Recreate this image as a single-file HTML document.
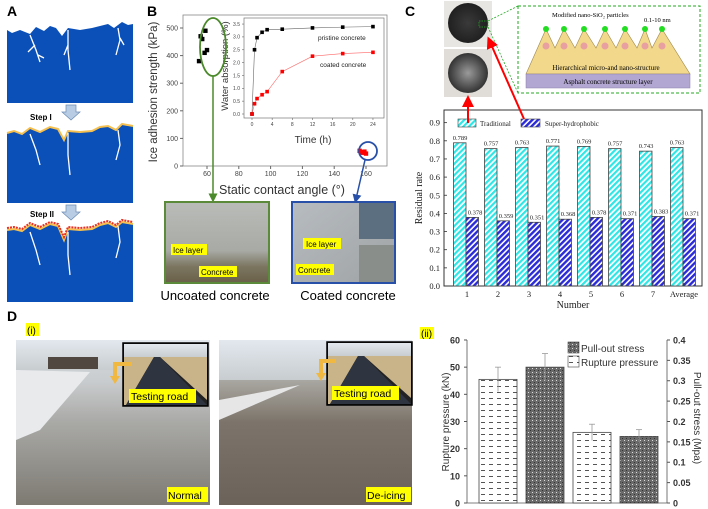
<!DOCTYPE html>
<html><head><meta charset="utf-8">
<style>
html,body{margin:0;padding:0;background:#fff;}
svg{display:block;font-family:"Liberation Sans",sans-serif;}
.serif{font-family:"Liberation Serif",serif;}
</style></head>
<body>
<svg id="fig" width="708" height="509" viewBox="0 0 708 509" xmlns="http://www.w3.org/2000/svg">
<defs>
<pattern id="pCyan" width="4" height="4" patternUnits="userSpaceOnUse" patternTransform="rotate(45)"><rect width="4" height="4" fill="#fff"/><rect width="2.2" height="4" fill="#2ee6e6"/></pattern>
<pattern id="pBlue" width="4" height="4" patternUnits="userSpaceOnUse" patternTransform="rotate(45)"><rect width="4" height="4" fill="#fff"/><rect width="2.4" height="4" fill="#2a2ad8"/></pattern>
<pattern id="pDash" width="8" height="6" patternUnits="userSpaceOnUse"><rect width="8" height="6" fill="#fff"/><rect x="1" y="2" width="4" height="1" fill="#555"/></pattern>
<pattern id="pDark" width="4" height="4" patternUnits="userSpaceOnUse"><rect width="4" height="4" fill="#6a6a6a"/><rect width="1" height="1" fill="#ddd"/><rect x="2" y="2" width="1" height="1" fill="#333"/></pattern>
<linearGradient id="gSnow" x1="0" y1="0" x2="0" y2="1"><stop offset="0" stop-color="#d8dde2"/><stop offset="0.25" stop-color="#c9ccce"/><stop offset="0.5" stop-color="#a9a9a6"/><stop offset="1" stop-color="#7d7a72"/></linearGradient>
<linearGradient id="gRoad" x1="0" y1="0" x2="0" y2="1"><stop offset="0" stop-color="#d9dee3"/><stop offset="0.25" stop-color="#a8a6a0"/><stop offset="0.5" stop-color="#7c746a"/><stop offset="1" stop-color="#6b6359"/></linearGradient>
<linearGradient id="gIce" x1="0" y1="0" x2="0" y2="1"><stop offset="0" stop-color="#b9bcb8"/><stop offset="0.6" stop-color="#a8aaa5"/><stop offset="0.8" stop-color="#7b7560"/><stop offset="1" stop-color="#6a6048"/></linearGradient>
<linearGradient id="gIce2" x1="0" y1="0" x2="1" y2="1"><stop offset="0" stop-color="#b7bcc0"/><stop offset="1" stop-color="#9fa3a5"/></linearGradient>
<linearGradient id="gSky" x1="0" y1="0" x2="0" y2="1"><stop offset="0" stop-color="#e2e8ee"/><stop offset="1" stop-color="#c8cdd0"/></linearGradient>
<radialGradient id="gDisk1"><stop offset="0" stop-color="#3a3a3a"/><stop offset="1" stop-color="#202020"/></radialGradient>
<radialGradient id="gDisk2"><stop offset="0" stop-color="#9a9a9a"/><stop offset="1" stop-color="#333"/></radialGradient>
<marker id="arR" markerWidth="6" markerHeight="6" refX="3" refY="3" orient="auto"><path d="M0,0 L6,3 L0,6 z" fill="#f00"/></marker>
<marker id="arG" markerWidth="6" markerHeight="6" refX="3" refY="3" orient="auto"><path d="M0,0 L6,3 L0,6 z" fill="#4a8a2a"/></marker>
<marker id="arB" markerWidth="6" markerHeight="6" refX="3" refY="3" orient="auto"><path d="M0,0 L6,3 L0,6 z" fill="#2850a8"/></marker>
</defs>

<!-- PANEL A -->
<g>
<text x="7" y="16" font-size="14" font-weight="bold">A</text>
<g>
<polygon points="7,30 12,33 20,30 30,34 36,27 44,31 50,26 56,28 62,36 68,28 80,30 92,28 100,26 108,24 114,28 122,22 128,25 133,24 133,103 7,103" fill="#0a50b8"/>
<path d="M30,35 L36,50 L40,62 M35,45 L28,52 M38,55 L44,58 M68,30 L68,50 L70,70 M68,45 L64,55 M118,28 L120,40 L116,55 M120,38 L124,45" stroke="#fff" stroke-width="1.3" fill="none"/>
</g>
<text x="30" y="120" font-size="8" font-weight="bold">Step I</text>
<polygon points="66,105 76,105 76,112 80,112 71,120 62,112 66,112" fill="#b8cce4" stroke="#6c8cb4" stroke-width="0.7"/>
<g>
<polygon points="7,133 14,131 22,134 30,128 40,132 50,127 58,129 64,140 68,131 80,132 92,131 100,127 108,126 116,130 122,124 133,126 133,203 7,203" fill="#0a50b8"/>
<polyline points="7,133 14,131 22,134 30,128 40,132 50,127 58,129 64,140 68,131 80,132 92,131 100,127 108,126 116,130 122,124 133,126" fill="none" stroke="#f5c050" stroke-width="2"/>
<path d="M30,134 L36,150 L40,165 M68,133 L68,155 L70,175 M118,130 L120,145 L116,160" stroke="#fff" stroke-width="1.3" fill="none"/>
</g>
<text x="30" y="217" font-size="8" font-weight="bold">Step II</text>
<polygon points="66,205 76,205 76,212 80,212 71,220 62,212 66,212" fill="#b8cce4" stroke="#6c8cb4" stroke-width="0.7"/>
<g>
<polygon points="7,230 14,229 22,231 30,225 40,229 50,224 58,226 64,240 68,229 80,230 92,229 100,225 108,223 116,227 122,222 133,224 133,302 7,302" fill="#0a50b8"/>
<polyline points="7,230 14,229 22,231 30,225 40,229 50,224 58,226 64,240 68,229 80,230 92,229 100,225 108,223 116,227 122,222 133,224" fill="none" stroke="#f5c050" stroke-width="2"/>
<polyline points="7,228 14,227 22,229 30,223 40,227 50,222 58,224 64,237 68,227 80,228 92,227 100,223 108,221 116,225 122,220 133,222" fill="none" stroke="#e83020" stroke-width="2" stroke-dasharray="2,1"/>
<path d="M30,232 L36,250 L40,265 M68,232 L68,255 L70,275 M118,226 L120,242 L116,258" stroke="#fff" stroke-width="1.3" fill="none"/>
</g>
</g>

<!-- PANEL B -->
<g>
<text x="147" y="16" font-size="14" font-weight="bold">B</text>
<g id="bMain"></g>
<g id="bInset"></g>
<ellipse cx="213" cy="47" rx="13" ry="29" fill="none" stroke="#4a8a2a" stroke-width="1.8"/>
<line x1="213" y1="76" x2="213" y2="198" stroke="#4a8a2a" stroke-width="1.5" marker-end="url(#arG)"/>
<circle cx="368" cy="151" r="9" fill="none" stroke="#2850a8" stroke-width="1.8"/>
<line x1="365" y1="160" x2="356" y2="199" stroke="#2850a8" stroke-width="1.5" marker-end="url(#arB)"/>
<g>
<rect x="165" y="202" width="104" height="81" fill="url(#gIce)" stroke="#5a8a3a" stroke-width="2"/>
<rect x="171" y="244" width="36" height="11" fill="#ffff00"/><text x="173" y="253" font-size="8">Ice layer</text>
<rect x="199" y="266" width="38" height="11" fill="#ffff00"/><text x="201" y="275" font-size="8">Concrete</text>
</g>
<g>
<rect x="292" y="202" width="103" height="81" fill="url(#gIce2)" stroke="#2850a8" stroke-width="2"/>
<rect x="359" y="203" width="35" height="36" fill="#5b6f80"/>
<rect x="359" y="245" width="35" height="37" fill="#8a8e8a"/>
<rect x="303" y="238" width="38" height="11" fill="#ffff00"/><text x="306" y="247" font-size="8">Ice layer</text>
<rect x="296" y="264" width="38" height="11" fill="#ffff00"/><text x="298" y="273" font-size="8">Concrete</text>
</g>
<text x="215" y="300" font-size="13" text-anchor="middle">Uncoated concrete</text>
<text x="348" y="300" font-size="13" text-anchor="middle">Coated concrete</text>
</g>

<!-- PANEL C -->
<g>
<text x="405" y="16" font-size="14" font-weight="bold">C</text>
<rect x="444" y="1" width="48" height="46" fill="#e8e6e2"/>
<circle cx="468" cy="23" r="20" fill="url(#gDisk1)"/>
<rect x="479" y="21" width="9" height="6" fill="none" stroke="#2a2" stroke-width="0.8" stroke-dasharray="1.5,1"/>
<rect x="444" y="49" width="48" height="48" fill="#e0ddd8"/>
<circle cx="468" cy="73" r="20" fill="url(#gDisk2)"/>
<line x1="488" y1="21" x2="518" y2="6" stroke="#2a2" stroke-width="0.8" stroke-dasharray="2,1.5"/>
<line x1="488" y1="27" x2="518" y2="93" stroke="#2a2" stroke-width="0.8" stroke-dasharray="2,1.5"/>
<g>
<rect x="518" y="6" width="182" height="87" fill="#fff" stroke="#2a2" stroke-width="1" stroke-dasharray="3,2"/>
<text x="552" y="17" font-size="6.5" class="serif">Modified nano-SiO₂ particles</text>
<text x="644" y="22" font-size="6.5" class="serif">0.1-10 nm</text>
<polygon points="526,74 546,29 555,48 564,29 575,48 584,29 596,48 605,29 616,48 625,29 637,48 645,29 652,48 662,29 690,74" fill="#f2d88a" stroke="#a08850" stroke-width="0.6"/>
<g fill="#22dd22"><circle cx="546" cy="29" r="3"/><circle cx="564" cy="29" r="3"/><circle cx="584" cy="29" r="3"/><circle cx="605" cy="29" r="3"/><circle cx="625" cy="29" r="3"/><circle cx="645" cy="29" r="3"/><circle cx="662" cy="29" r="3"/></g>
<g fill="#e8a0a0"><circle cx="546" cy="46" r="3.5"/><circle cx="564" cy="46" r="3.5"/><circle cx="584" cy="46" r="3.5"/><circle cx="605" cy="46" r="3.5"/><circle cx="625" cy="46" r="3.5"/><circle cx="645" cy="46" r="3.5"/><circle cx="662" cy="46" r="3.5"/></g>
<text x="606" y="70" font-size="7" class="serif" text-anchor="middle">Hierarchical micro-and nano-structure</text>
<rect x="526" y="74" width="164" height="14" fill="#b2a6d2" stroke="#8a80aa" stroke-width="0.5"/>
<text x="608" y="84" font-size="7" class="serif" text-anchor="middle">Asphalt concrete structure layer</text>
</g>
<g id="cChart" class="serif"></g>
<line x1="468" y1="123" x2="468" y2="101" stroke="#f00" stroke-width="2" marker-end="url(#arR)"/>
<line x1="524" y1="119" x2="490" y2="42" stroke="#f00" stroke-width="2" marker-end="url(#arR)"/>
</g>

<!-- PANEL D -->
<g>
<text x="7" y="321" font-size="14" font-weight="bold">D</text>
<rect x="26" y="323" width="13" height="13" fill="#ffff00"/><text x="27" y="334" font-size="10">(i)</text>
<g>
<rect x="16" y="340" width="194" height="165" fill="url(#gSnow)"/>
<rect x="16" y="340" width="194" height="30" fill="url(#gSky)"/>
<rect x="48" y="357" width="50" height="12" fill="#504840"/>
<polygon points="16,370 90,372 40,430 16,440" fill="#e8eaec"/>
<rect x="123" y="343" width="85" height="63" fill="#222" stroke="#000" stroke-width="1.5"/>
<rect x="124" y="344" width="83" height="13" fill="url(#gSky)"/>
<polygon points="124,357 154,357 126,405 124,405" fill="#c9b48a"/><polygon points="160,357 207,357 207,400" fill="#c9b48a"/>
<polygon points="154,357 160,357 207,405 126,405" fill="#2e3440"/>
<rect x="129" y="389" width="67" height="14" fill="#ffff00"/><text x="131" y="400" font-size="10.5">Testing road</text>
<path d="M132,364 L115,364 L115,376" fill="none" stroke="#f0b840" stroke-width="4"/><polygon points="110,376 120,376 115,384" fill="#f0b840"/>
<rect x="167" y="487" width="41" height="15" fill="#ffff00"/><text x="168" y="499" font-size="10.5">Normal</text>
</g>
<g>
<rect x="219" y="340" width="193" height="165" fill="url(#gRoad)"/>
<rect x="219" y="340" width="193" height="40" fill="url(#gSky)"/>
<polygon points="219,400 300,385 219,420" fill="#e6e6e6"/>
<rect x="327" y="342" width="85" height="63" fill="#222" stroke="#000" stroke-width="1.5"/>
<rect x="328" y="343" width="83" height="13" fill="url(#gSky)"/>
<polygon points="328,356 358,356 330,404 328,404" fill="#c9b48a"/><polygon points="364,356 411,356 411,398" fill="#c9b48a"/>
<polygon points="358,356 364,356 411,404 330,404" fill="#2e3440"/>
<rect x="332" y="386" width="67" height="14" fill="#ffff00"/><text x="334" y="397" font-size="10.5">Testing road</text>
<path d="M336,361 L321,361 L321,373" fill="none" stroke="#f0b840" stroke-width="4"/><polygon points="316,373 326,373 321,381" fill="#f0b840"/>
<rect x="366" y="487" width="45" height="15" fill="#ffff00"/><text x="367" y="499" font-size="10.5">De-icing</text>
</g>
<rect x="420" y="327" width="14" height="12" fill="#ffff00"/><text x="421" y="337" font-size="10">(ii)</text>
<g id="dChart"></g>
</g>

<script>
// ---------- Panel B data ----------
var bAngles = [55, 56, 57, 58.5, 59, 60];
var bAdhesion = [380, 470, 460, 410, 490, 420];
var bCoatedAngles = [156, 157, 158, 159, 160];
var bCoatedAdhesion = [55, 50, 48, 52, 45];
var bXTicks = [60, 80, 100, 120, 140, 160];
var bYTicks = [0, 100, 200, 300, 400, 500];
var insetTime = [0, 0.5, 1, 2, 3, 6, 12, 18, 24];
var insetPristine = [0, 2.5, 2.97, 3.18, 3.28, 3.3, 3.35, 3.38, 3.4];
var insetCoated = [0, 0.4, 0.6, 0.75, 0.87, 1.65, 2.25, 2.35, 2.4];
var insetXTicks = [0, 4, 8, 12, 16, 20, 24];
var insetYTicks = [0, 0.5, 1.0, 1.5, 2.0, 2.5, 3.0, 3.5];
// ---------- Panel C data ----------
var cCategories = ["1", "2", "3", "4", "5", "6", "7", "Average"];
var cTraditional = [0.789, 0.757, 0.763, 0.771, 0.769, 0.757, 0.743, 0.763];
var cSuper = [0.378, 0.359, 0.351, 0.368, 0.378, 0.371, 0.383, 0.371];
var cYTicks = [0, 0.1, 0.2, 0.3, 0.4, 0.5, 0.6, 0.7, 0.8, 0.9];
// ---------- Panel D(ii) data ----------
var dValues = [45.5, 50, 26, 24.5];
var dErrors = [4.5, 5, 3, 2.5];
var dSeries = ["rupture", "pullout", "rupture", "pullout"];
var dLeftTicks = [0, 10, 20, 30, 40, 50, 60];
var dRightTicks = [0, 0.05, 0.1, 0.15, 0.2, 0.25, 0.3, 0.35, 0.4];

var NS = "http://www.w3.org/2000/svg";
function mk(parent, tag, attrs, text) {
  var e = document.createElementNS(NS, tag);
  for (var k in attrs) e.setAttribute(k, attrs[k]);
  if (text !== undefined) e.textContent = text;
  parent.appendChild(e);
  return e;
}
function fmt(v, d) { return v.toFixed(d); }

// ---------- Panel B main ----------
(function () {
  var g = document.getElementById("bMain");
  var X0 = 183, X1 = 387, Y0 = 15, Y1 = 166;
  function bx(v) { return 207 + (v - 60) * 1.59; }
  function by(v) { return 166 - v * 0.276; }
  var frame = mk(g, "rect", {x: X0, y: Y0, width: X1 - X0, height: Y1 - Y0, fill: "#fff", stroke: "#888", "stroke-width": 0.8});
  
  
  bXTicks.forEach(function (t) {
    mk(g, "line", {x1: bx(t), y1: Y1, x2: bx(t), y2: Y1 + 3, stroke: "#666"});
    var l = mk(g, "text", {x: bx(t), y: Y1 + 10, "font-size": 7, "text-anchor": "middle", fill: "#444"}, String(t));
    
    
  });
  bYTicks.forEach(function (t) {
    mk(g, "line", {x1: X0 - 3, y1: by(t), x2: X0, y2: by(t), stroke: "#666"});
    var l = mk(g, "text", {x: X0 - 5, y: by(t) + 2.5, "font-size": 7, "text-anchor": "end", fill: "#444"}, String(t));
    
    
  });
  var yt = mk(g, "text", {x: 0, y: 0, "font-size": 11.5, "text-anchor": "middle", fill: "#333", transform: "translate(157,92) rotate(-90)"}, "Ice adhesion strength (kPa)");
  
  
  var xt = mk(g, "text", {x: 282, y: 194, "font-size": 12.5, "text-anchor": "middle", fill: "#333"}, "Static contact angle (°)");
  
  
  bAngles.forEach(function (a, i) {
    var p = mk(g, "rect", {x: bx(a) - 2.2, y: by(bAdhesion[i]) - 2.2, width: 4.4, height: 4.4, fill: "#000"});
    
    
  });
  bCoatedAngles.forEach(function (a, i) {
    var p = mk(g, "rect", {x: bx(a) - 2.2, y: by(bCoatedAdhesion[i]) - 2.2, width: 4.4, height: 4.4, fill: "#f00"});
    
    
  });
})();

// ---------- Panel B inset ----------
(function () {
  var g = document.getElementById("bInset");
  var X0 = 244, X1 = 384, Y0 = 18, Y1 = 118;
  function ix(t) { return 252 + t * 5.04; }
  function iy(w) { return 114 - w * 25.7; }
  mk(g, "rect", {x: X0, y: Y0, width: X1 - X0, height: Y1 - Y0, fill: "#fff", stroke: "#777", "stroke-width": 0.7});
  insetXTicks.forEach(function (t) {
    mk(g, "line", {x1: ix(t), y1: Y1, x2: ix(t), y2: Y1 + 2, stroke: "#666", "stroke-width": 0.6});
    var l = mk(g, "text", {x: ix(t), y: Y1 + 8, "font-size": 5, "text-anchor": "middle", fill: "#444"}, String(t));
    
    
  });
  insetYTicks.forEach(function (t) {
    mk(g, "line", {x1: X0 - 2, y1: iy(t), x2: X0, y2: iy(t), stroke: "#666", "stroke-width": 0.6});
    var l = mk(g, "text", {x: X0 - 4, y: iy(t) + 1.8, "font-size": 5, "text-anchor": "end", fill: "#444"}, fmt(t, 1));
    
    
  });
  var yt = mk(g, "text", {x: 0, y: 0, "font-size": 9.5, "text-anchor": "middle", fill: "#333", transform: "translate(228,66) rotate(-90)"}, "Water absorption (%)");
  
  
  var xt = mk(g, "text", {x: 313, y: 143, "font-size": 10, "text-anchor": "middle", fill: "#333"}, "Time (h)");
  
  
  function series(vals, col, name) {
    var pts = insetTime.map(function (t, i) { return ix(t) + "," + iy(vals[i]); }).join(" ");
    var line = mk(g, "polyline", {points: pts, fill: "none", stroke: col, "stroke-width": 0.6, opacity: 0.6});
    
    
    insetTime.forEach(function (t, i) {
      var p = mk(g, "rect", {x: ix(t) - 1.8, y: iy(vals[i]) - 1.8, width: 3.6, height: 3.6, fill: col});
      
      
    });
  }
  series(insetPristine, "#000", "pristine");
  series(insetCoated, "#f00", "coated");
  var l1 = mk(g, "text", {x: 318, y: 40, "font-size": 6.5, fill: "#222"}, "pristine concrete");
  
  
  var l2 = mk(g, "text", {x: 320, y: 67, "font-size": 6.5, fill: "#222"}, "coated concrete");
  
  
})();

// ---------- Panel C chart ----------
(function () {
  var g = document.getElementById("cChart");
  var X0 = 444, X1 = 702, Y0 = 110, Y1 = 286;
  function cy(v) { return 286 - v * 181.5; }
  function cx(i) { return 467 + i * 31; }
  mk(g, "rect", {x: X0, y: Y0, width: X1 - X0, height: Y1 - Y0, fill: "#fff", stroke: "#333", "stroke-width": 1});
  cYTicks.forEach(function (t) {
    mk(g, "line", {x1: X0, y1: cy(t), x2: X0 + 3, y2: cy(t), stroke: "#333", "stroke-width": 0.8});
    var l = mk(g, "text", {x: X0 - 4, y: cy(t) + 3, "font-size": 8.5, "text-anchor": "end", fill: "#222"}, fmt(t, 1));
    
    
  });
  cCategories.forEach(function (c, i) {
    var x = cx(i);
    var b1 = mk(g, "rect", {x: x - 13.5, y: cy(cTraditional[i]), width: 12.5, height: Y1 - cy(cTraditional[i]), fill: "url(#pCyan)", stroke: "#444", "stroke-width": 0.8});
    
    
    var b2 = mk(g, "rect", {x: x - 1, y: cy(cSuper[i]), width: 12.5, height: Y1 - cy(cSuper[i]), fill: "url(#pBlue)", stroke: "#444", "stroke-width": 0.8});
    
    
    var v1 = mk(g, "text", {x: x - 7, y: cy(cTraditional[i]) - 3, "font-size": 6.5, "text-anchor": "middle", fill: "#222"}, fmt(cTraditional[i], 3));
    
    
    var v2 = mk(g, "text", {x: x + 8, y: cy(cSuper[i]) - 3, "font-size": 6.5, "text-anchor": "middle", fill: "#222"}, fmt(cSuper[i], 3));
    
    
    mk(g, "line", {x1: x, y1: Y1, x2: x, y2: Y1 - 3, stroke: "#333", "stroke-width": 0.8});
    var l = mk(g, "text", {x: x, y: Y1 + 11, "font-size": 8.5, "text-anchor": "middle", fill: "#222"}, c);
    
    
  });
  var yt = mk(g, "text", {x: 0, y: 0, "font-size": 10, "text-anchor": "middle", fill: "#222", transform: "translate(422,198) rotate(-90)"}, "Residual rate");
  
  
  var xt = mk(g, "text", {x: 573, y: 308, "font-size": 10, "text-anchor": "middle", fill: "#222"}, "Number");
  
  
  var lg1 = mk(g, "rect", {x: 458, y: 119, width: 18, height: 8, fill: "url(#pCyan)", stroke: "#444", "stroke-width": 0.6});
  
  
  var lt1 = mk(g, "text", {x: 480, y: 126, "font-size": 7, fill: "#222"}, "Traditional");
  
  
  var lg2 = mk(g, "rect", {x: 521, y: 119, width: 19, height: 8, fill: "url(#pBlue)", stroke: "#444", "stroke-width": 0.6});
  
  
  var lt2 = mk(g, "text", {x: 545, y: 126, "font-size": 7, fill: "#222"}, "Super-hydrophobic");
  
  
})();

// ---------- Panel D(ii) chart ----------
(function () {
  var g = document.getElementById("dChart");
  var X0 = 467, X1 = 667, Y0 = 340, Y1 = 503;
  function dy(v) { return 503 - v * 2.717; }
  function dx(i) { return 498 + i * 47; }
  mk(g, "line", {x1: X0, y1: Y0, x2: X0, y2: Y1, stroke: "#555", "stroke-width": 0.8});
  mk(g, "line", {x1: X1, y1: Y0, x2: X1, y2: Y1, stroke: "#555", "stroke-width": 0.8});
  mk(g, "line", {x1: X0, y1: Y1, x2: X1, y2: Y1, stroke: "#555", "stroke-width": 0.8});
  dLeftTicks.forEach(function (t) {
    mk(g, "line", {x1: X0 - 3, y1: dy(t), x2: X0, y2: dy(t), stroke: "#555"});
    var l = mk(g, "text", {x: X0 - 7, y: dy(t) + 3.5, "font-size": 9, "font-weight": "bold", "text-anchor": "end", fill: "#333"}, String(t));
    
    
  });
  dRightTicks.forEach(function (t) {
    var yy = dy(t * 150);
    mk(g, "line", {x1: X1, y1: yy, x2: X1 + 3, y2: yy, stroke: "#555"});
    var l = mk(g, "text", {x: X1 + 6, y: yy + 3.5, "font-size": 9, "font-weight": "bold", fill: "#333"}, t === 0 ? "0" : String(t));
    
    
  });
  dValues.forEach(function (v, i) {
    var x = dx(i);
    var b = mk(g, "rect", {x: x - 19, y: dy(v), width: 38, height: Y1 - dy(v), fill: dSeries[i] === "pullout" ? "url(#pDark)" : "url(#pDash)", stroke: "#444", "stroke-width": 0.8});
    
    
    var e = mk(g, "line", {x1: x, y1: dy(v + dErrors[i]), x2: x, y2: dy(v - dErrors[i]), stroke: "#999", "stroke-width": 0.8});
    
    
    mk(g, "line", {x1: x - 3, y1: dy(v + dErrors[i]), x2: x + 3, y2: dy(v + dErrors[i]), stroke: "#999", "stroke-width": 0.8});
  });
  var yt = mk(g, "text", {x: 0, y: 0, "font-size": 10, "text-anchor": "middle", fill: "#333", transform: "translate(449,422) rotate(-90)"}, "Rupture pressure (kN)");
  
  
  var yt2 = mk(g, "text", {x: 0, y: 0, "font-size": 10, "text-anchor": "middle", fill: "#333", transform: "translate(694,418) rotate(90)"}, "Pull-out stress (Mpa)");
  
  
  var s1 = mk(g, "rect", {x: 568, y: 342, width: 11, height: 11, fill: "url(#pDark)", stroke: "#444", "stroke-width": 0.6});
  
  
  var t1 = mk(g, "text", {x: 581, y: 352, "font-size": 10, fill: "#333"}, "Pull-out stress");
  
  
  var s2 = mk(g, "rect", {x: 568, y: 356, width: 11, height: 11, fill: "url(#pDash)", stroke: "#444", "stroke-width": 0.6});
  
  
  var t2 = mk(g, "text", {x: 581, y: 366, "font-size": 10, fill: "#333"}, "Rupture pressure");
  
  
})();
</script>
</svg>
</body></html>
